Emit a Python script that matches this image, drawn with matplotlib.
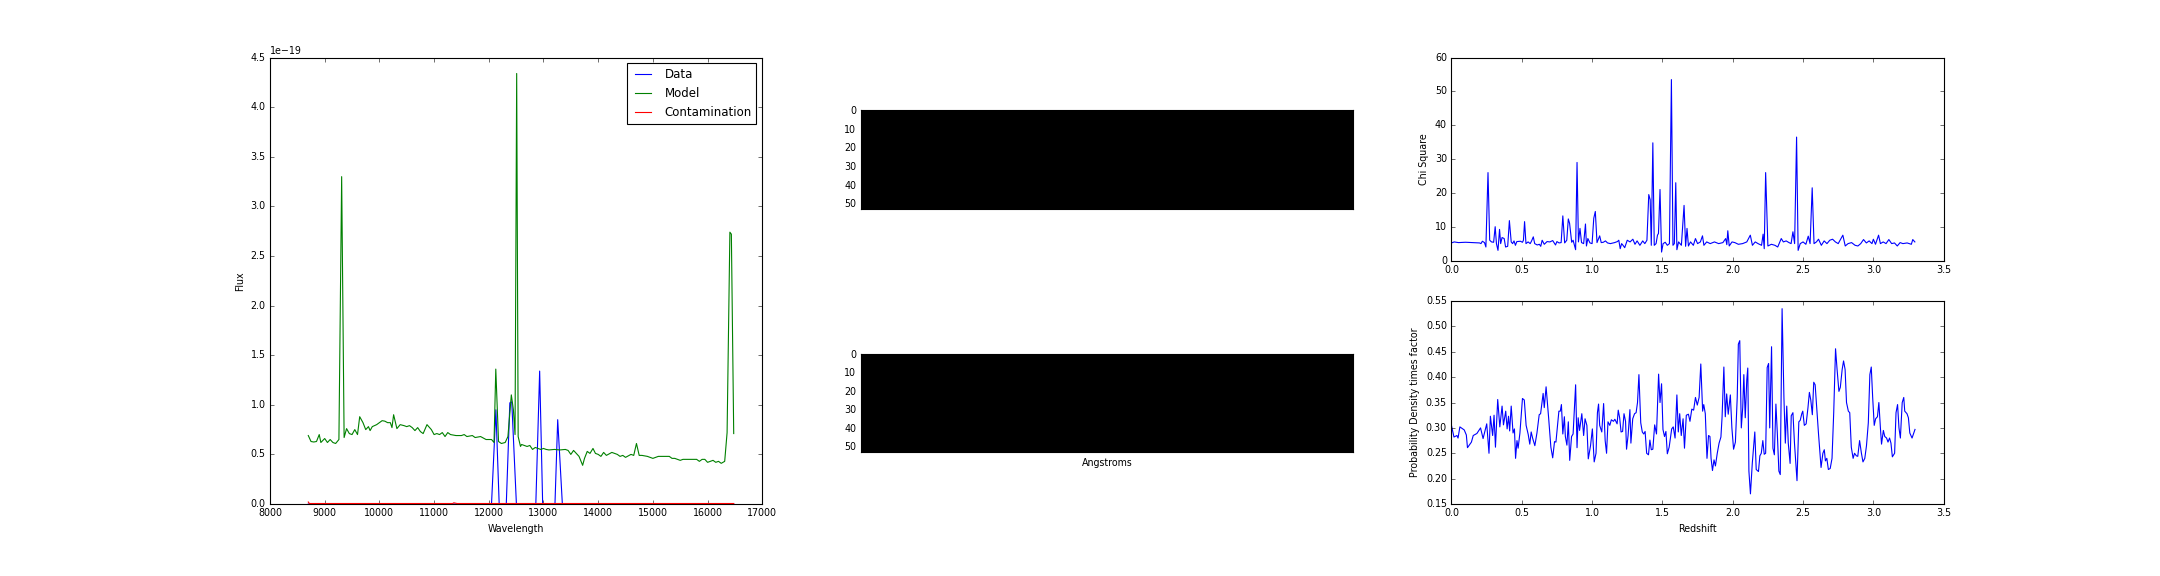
import numpy as np
import matplotlib
matplotlib.use("Agg")
import matplotlib.pyplot as plt

# --------------------------------------------------------------
# Data
# --------------------------------------------------------------

# Spectrum panel (flux in units of 1e-19)
model_wave = [8700, 8750, 8800, 8850, 8900, 8930, 9000, 9050, 9100, 9150, 9200, 9260,
              9310, 9355, 9400, 9450, 9500, 9550, 9600, 9640, 9700, 9750, 9800, 9830,
              9870, 9950, 10000, 10050, 10100, 10150, 10200, 10230, 10260, 10320, 10380,
              10450, 10500, 10550, 10600, 10650, 10700, 10750, 10800, 10870, 10950, 11000,
              11050, 11100, 11150, 11200, 11250, 11300, 11400, 11500, 11550, 11600, 11700,
              11750, 11850, 11950, 12050, 12096, 12128, 12178, 12230, 12300, 12350, 12412,
              12450, 12480, 12510, 12537, 12580, 12600, 12650, 12700, 12750, 12800, 12850,
              12900, 12950, 13000, 13050, 13100, 13200, 13300, 13400, 13450, 13500, 13550,
              13600, 13650, 13716, 13750, 13800, 13850, 13905, 13950, 14000, 14050, 14100,
              14150, 14250, 14350, 14400, 14450, 14500, 14600, 14650, 14700, 14750, 14800,
              14900, 15000, 15100, 15200, 15300, 15350, 15400, 15450, 15500, 15550, 15600,
              15700, 15800, 15850, 15900, 15950, 16000, 16050, 16100, 16150, 16200, 16250,
              16313, 16357, 16408, 16435, 16478]
model_flux = [0.69, 0.63, 0.625, 0.63, 0.70, 0.62, 0.66, 0.62, 0.65, 0.62, 0.61, 0.65,
              3.30, 0.67, 0.76, 0.71, 0.70, 0.75, 0.70, 0.88, 0.82, 0.75, 0.78, 0.74,
              0.78, 0.80, 0.82, 0.84, 0.835, 0.82, 0.82, 0.77, 0.90, 0.76, 0.80,
              0.79, 0.78, 0.79, 0.77, 0.74, 0.77, 0.73, 0.71, 0.80, 0.75, 0.70,
              0.71, 0.70, 0.72, 0.68, 0.72, 0.70, 0.69, 0.69, 0.70, 0.68, 0.69,
              0.67, 0.68, 0.65, 0.65, 0.62, 1.36, 0.63, 0.61, 0.62, 0.68, 1.10,
              0.95, 0.70, 4.34, 0.68, 0.58, 0.60, 0.59, 0.58, 0.59, 0.55, 0.57,
              0.56, 0.55, 0.56, 0.55, 0.545, 0.55, 0.545, 0.55, 0.54, 0.50, 0.54,
              0.51, 0.48, 0.39, 0.46, 0.53, 0.51, 0.56, 0.51, 0.50, 0.48, 0.52,
              0.49, 0.52, 0.50, 0.48, 0.49, 0.47, 0.50, 0.49, 0.61, 0.49, 0.49,
              0.48, 0.46, 0.48, 0.48, 0.48, 0.46, 0.46, 0.45, 0.44, 0.45, 0.45,
              0.45, 0.45, 0.43, 0.45, 0.45, 0.42, 0.43, 0.44, 0.42, 0.43, 0.41,
              0.43, 0.72, 2.74, 2.72, 0.71]

data_wave = [8700, 12050, 12130, 12190, 12320, 12385, 12420, 12505, 12860, 12930, 12985,
             13210, 13260, 13345, 16478]
data_flux = [0.0, 0.0, 0.95, 0.0, 0.0, 1.02, 1.03, 0.0, 0.0, 1.34, 0.0,
             0.0, 0.85, 0.0, 0.0]

contam_wave = [8700, 8720, 11340, 11360, 11420, 16478]
contam_flux = [0.02, 0.005, 0.005, 0.012, 0.005, 0.005]

# 2D cutouts (empty, all black)
cutout_rows = 53
cutout_cols = 262
cutout_top = np.zeros((cutout_rows, cutout_cols))
cutout_bottom = np.zeros((cutout_rows, cutout_cols))

# Chi square vs redshift
chi_z = [0.000, 0.020, 0.050, 0.100, 0.150, 0.200, 0.210, 0.220, 0.235, 0.245, 0.260, 0.272,
         0.285, 0.300, 0.311, 0.320, 0.331, 0.342, 0.350, 0.360, 0.375, 0.385, 0.400, 0.412,
         0.425, 0.435, 0.445, 0.455, 0.465, 0.490, 0.505, 0.512, 0.520, 0.530, 0.545, 0.560,
         0.570, 0.582, 0.592, 0.610, 0.625, 0.635, 0.645, 0.660, 0.680, 0.700, 0.720, 0.740,
         0.750, 0.765, 0.780, 0.792, 0.805, 0.820, 0.831, 0.840, 0.855, 0.865, 0.883, 0.893,
         0.903, 0.914, 0.925, 0.940, 0.953, 0.960, 0.970, 0.985, 1.000, 1.012, 1.023, 1.035,
         1.054, 1.065, 1.080, 1.095, 1.110, 1.130, 1.160, 1.180, 1.190, 1.200, 1.210, 1.220,
         1.232, 1.250, 1.270, 1.290, 1.305, 1.320, 1.340, 1.360, 1.375, 1.390, 1.403, 1.413,
         1.421, 1.432, 1.442, 1.455, 1.465, 1.472, 1.483, 1.494, 1.505, 1.520, 1.535, 1.550,
         1.564, 1.575, 1.585, 1.595, 1.603, 1.615, 1.635, 1.654, 1.665, 1.675, 1.685, 1.700,
         1.720, 1.735, 1.750, 1.770, 1.785, 1.795, 1.815, 1.840, 1.870, 1.900, 1.930, 1.950,
         1.958, 1.965, 1.975, 1.995, 2.015, 2.040, 2.070, 2.100, 2.125, 2.140, 2.160, 2.180,
         2.205, 2.216, 2.224, 2.234, 2.250, 2.275, 2.300, 2.320, 2.345, 2.360, 2.380, 2.400,
         2.415, 2.428, 2.440, 2.454, 2.465, 2.480, 2.500, 2.520, 2.537, 2.550, 2.565, 2.578,
         2.595, 2.610, 2.630, 2.650, 2.670, 2.690, 2.710, 2.730, 2.750, 2.770, 2.783, 2.800,
         2.820, 2.845, 2.870, 2.890, 2.910, 2.930, 2.950, 2.970, 2.990, 3.000, 3.015, 3.037,
         3.050, 3.070, 3.090, 3.110, 3.130, 3.150, 3.170, 3.190, 3.210, 3.240, 3.270, 3.280,
         3.295]
chi_sq = [5.2, 5.5, 5.3, 5.4, 5.3, 5.2, 5.0, 5.7, 5.3, 4.0, 26.0, 6.0,
          5.5, 5.4, 10.0, 5.0, 3.0, 9.2, 5.0, 6.8, 6.5, 4.0, 4.2, 11.8,
          5.5, 5.0, 5.8, 4.5, 5.6, 5.7, 5.4, 6.0, 11.5, 5.0, 5.5, 5.0,
          5.8, 7.0, 5.0, 4.6, 4.8, 4.2, 6.0, 4.8, 5.6, 5.5, 5.9, 4.6,
          5.6, 5.2, 5.3, 13.2, 5.2, 6.0, 12.3, 11.0, 5.4, 6.0, 3.2, 29.0,
          5.5, 9.5, 5.3, 5.0, 10.8, 4.3, 6.5, 5.2, 5.0, 12.5, 14.5, 5.3,
          7.3, 5.3, 5.4, 5.8, 5.2, 5.0, 5.3, 5.6, 6.0, 3.5, 5.0, 4.5,
          3.8, 6.0, 5.5, 6.3, 4.8, 5.8, 4.5, 5.8, 5.0, 6.0, 19.5, 18.0,
          4.5, 34.8, 4.5, 5.0, 7.5, 8.0, 21.0, 2.5, 5.0, 5.4, 4.5, 5.0,
          53.5, 4.5, 5.0, 23.0, 3.2, 5.5, 4.5, 16.3, 4.2, 9.5, 4.3, 5.5,
          4.5, 6.5, 5.0, 5.5, 7.3, 4.5, 5.5, 5.0, 5.5, 5.0, 5.3, 6.5,
          4.7, 8.8, 4.3, 5.5, 5.3, 4.8, 5.0, 5.5, 7.5, 4.5, 5.5, 5.0,
          4.5, 7.8, 3.5, 26.0, 4.3, 4.8, 4.5, 4.0, 6.5, 5.5, 5.8, 5.3,
          5.0, 8.5, 5.0, 36.5, 3.0, 5.0, 5.5, 4.8, 7.2, 5.0, 21.5, 5.0,
          5.5, 6.3, 4.5, 5.8, 5.0, 6.0, 6.3, 5.5, 5.0, 6.5, 7.5, 4.3,
          5.0, 5.3, 4.5, 4.3, 5.0, 6.2, 5.2, 5.8, 5.0, 6.3, 4.8, 7.5,
          5.0, 5.5, 5.0, 6.2, 5.0, 5.2, 4.3, 5.3, 5.0, 5.2, 4.8, 6.2,
          5.5]

# Probability density (times factor) vs redshift
pdf_z = [0.000, 0.018, 0.039, 0.047, 0.060, 0.091, 0.106, 0.114, 0.142, 0.155, 0.181, 0.207,
         0.225, 0.251, 0.267, 0.277, 0.293, 0.303, 0.313, 0.329, 0.344, 0.360, 0.370, 0.386,
         0.396, 0.406, 0.414, 0.425, 0.438, 0.448, 0.456, 0.466, 0.474, 0.487, 0.505, 0.518,
         0.531, 0.546, 0.557, 0.567, 0.577, 0.593, 0.608, 0.624, 0.634, 0.652, 0.660, 0.673,
         0.691, 0.707, 0.720, 0.733, 0.743, 0.764, 0.774, 0.782, 0.792, 0.803, 0.810, 0.821,
         0.831, 0.841, 0.854, 0.865, 0.883, 0.893, 0.901, 0.911, 0.927, 0.940, 0.950, 0.963,
         0.973, 0.989, 1.002, 1.015, 1.028, 1.038, 1.046, 1.054, 1.069, 1.082, 1.093, 1.103,
         1.113, 1.126, 1.137, 1.152, 1.162, 1.178, 1.186, 1.196, 1.206, 1.217, 1.227, 1.238,
         1.245, 1.256, 1.269, 1.276, 1.289, 1.302, 1.313, 1.323, 1.333, 1.346, 1.357, 1.367,
         1.377, 1.388, 1.401, 1.411, 1.421, 1.432, 1.445, 1.458, 1.473, 1.483, 1.494, 1.504,
         1.515, 1.525, 1.535, 1.548, 1.566, 1.577, 1.590, 1.603, 1.613, 1.623, 1.634, 1.647,
         1.657, 1.670, 1.685, 1.696, 1.709, 1.722, 1.735, 1.748, 1.761, 1.773, 1.786, 1.794,
         1.805, 1.817, 1.828, 1.838, 1.846, 1.856, 1.867, 1.877, 1.890, 1.903, 1.916, 1.924,
         1.937, 1.947, 1.957, 1.968, 1.983, 1.994, 2.006, 2.019, 2.032, 2.040, 2.050, 2.061,
         2.071, 2.079, 2.089, 2.100, 2.107, 2.115, 2.126, 2.139, 2.157, 2.167, 2.183, 2.193,
         2.203, 2.214, 2.224, 2.234, 2.245, 2.255, 2.263, 2.276, 2.286, 2.296, 2.307, 2.317,
         2.328, 2.338, 2.351, 2.364, 2.374, 2.384, 2.395, 2.408, 2.416, 2.428, 2.439, 2.447,
         2.457, 2.470, 2.480, 2.491, 2.498, 2.509, 2.522, 2.535, 2.545, 2.555, 2.566, 2.576,
         2.586, 2.597, 2.610, 2.628, 2.641, 2.651, 2.659, 2.669, 2.680, 2.693, 2.706, 2.718,
         2.731, 2.742, 2.755, 2.765, 2.778, 2.788, 2.799, 2.809, 2.822, 2.832, 2.843, 2.856,
         2.866, 2.879, 2.889, 2.902, 2.915, 2.926, 2.939, 2.951, 2.964, 2.975, 2.985, 2.995,
         3.006, 3.016, 3.029, 3.039, 3.050, 3.058, 3.071, 3.081, 3.094, 3.104, 3.115, 3.125,
         3.135, 3.151, 3.161, 3.172, 3.182, 3.192, 3.205, 3.216, 3.223, 3.239, 3.249, 3.259,
         3.275, 3.296]
pdf_val = [0.305, 0.282, 0.285, 0.280, 0.302, 0.296, 0.286, 0.261, 0.272, 0.285, 0.289, 0.300,
           0.279, 0.308, 0.250, 0.323, 0.285, 0.325, 0.262, 0.356, 0.302, 0.343, 0.306, 0.333,
           0.298, 0.323, 0.294, 0.343, 0.290, 0.298, 0.240, 0.275, 0.260, 0.290, 0.358, 0.355,
           0.305, 0.287, 0.268, 0.292, 0.280, 0.265, 0.290, 0.326, 0.328, 0.368, 0.340, 0.381,
           0.320, 0.262, 0.241, 0.273, 0.272, 0.333, 0.333, 0.346, 0.288, 0.322, 0.283, 0.266,
           0.312, 0.236, 0.283, 0.288, 0.385, 0.261, 0.320, 0.295, 0.328, 0.285, 0.318, 0.305,
           0.239, 0.265, 0.298, 0.233, 0.250, 0.330, 0.347, 0.305, 0.292, 0.348, 0.275, 0.250,
           0.312, 0.305, 0.316, 0.313, 0.317, 0.308, 0.335, 0.320, 0.292, 0.293, 0.328, 0.313,
           0.258, 0.285, 0.336, 0.270, 0.318, 0.328, 0.330, 0.350, 0.405, 0.310, 0.292, 0.288,
           0.293, 0.250, 0.247, 0.276, 0.257, 0.258, 0.306, 0.288, 0.406, 0.350, 0.387, 0.297,
           0.283, 0.293, 0.249, 0.262, 0.298, 0.302, 0.280, 0.365, 0.292, 0.328, 0.285, 0.318,
           0.260, 0.325, 0.327, 0.313, 0.337, 0.335, 0.360, 0.345, 0.360, 0.426, 0.333, 0.346,
           0.328, 0.240, 0.285, 0.283, 0.240, 0.216, 0.237, 0.225, 0.250, 0.270, 0.282, 0.320,
           0.420, 0.322, 0.367, 0.327, 0.365, 0.300, 0.258, 0.272, 0.360, 0.465, 0.472, 0.300,
           0.340, 0.405, 0.320, 0.395, 0.418, 0.215, 0.170, 0.230, 0.292, 0.218, 0.214, 0.245,
           0.250, 0.275, 0.248, 0.250, 0.419, 0.427, 0.300, 0.460, 0.260, 0.247, 0.347, 0.290,
           0.215, 0.208, 0.535, 0.360, 0.270, 0.343, 0.270, 0.230, 0.324, 0.330, 0.270, 0.236,
           0.196, 0.312, 0.315, 0.328, 0.333, 0.305, 0.308, 0.340, 0.370, 0.355, 0.326, 0.390,
           0.385, 0.340, 0.288, 0.222, 0.250, 0.257, 0.235, 0.240, 0.218, 0.220, 0.240, 0.330,
           0.456, 0.415, 0.372, 0.380, 0.415, 0.432, 0.415, 0.350, 0.333, 0.330, 0.262, 0.240,
           0.250, 0.245, 0.244, 0.275, 0.250, 0.233, 0.240, 0.265, 0.310, 0.405, 0.420, 0.360,
           0.305, 0.318, 0.322, 0.350, 0.300, 0.268, 0.295, 0.283, 0.280, 0.272, 0.280, 0.270,
           0.243, 0.250, 0.330, 0.346, 0.300, 0.280, 0.350, 0.360, 0.333, 0.328, 0.320, 0.290,
           0.280, 0.297]

# --------------------------------------------------------------
# Figure
# --------------------------------------------------------------
plt.style.use('classic')
plt.rcParams['font.size'] = 8.6
plt.rcParams['legend.fontsize'] = 10.6
plt.rcParams['figure.facecolor'] = 'white'
plt.rcParams['savefig.facecolor'] = 'white'

fig = plt.figure(figsize=(27, 7.2), dpi=80)

scale = 1e-19

# 3 columns: left=0.125, right=0.9, wspace=0.2
col_w = 0.2279
col_x = [0.125, 0.125 + 1.2 * col_w, 0.125 + 2.4 * col_w]

# Left: spectrum
ax1 = fig.add_axes([col_x[0], 0.125, col_w, 0.775])
ax1.plot(data_wave, np.array(data_flux) * scale, color='b', label='Data')
ax1.plot(model_wave, np.array(model_flux) * scale, color='g', label='Model')
ax1.plot(contam_wave, np.array(contam_flux) * scale, color='r', label='Contamination',
         zorder=3, clip_on=False)
ax1.set_xlim(8000, 17000)
ax1.set_ylim(0, 4.5e-19)
ax1.set_xticks(np.arange(8000, 17001, 1000))
ax1.set_yticks(np.arange(0, 4.51e-19, 0.5e-19))
ax1.set_xlabel('Wavelength')
ax1.set_ylabel('Flux')
ax1.legend(loc='upper right')

# Middle: 2D cutouts
ax2 = fig.add_axes([col_x[1], 0.6372, col_w, 0.1719])
ax2.imshow(cutout_top, cmap='gray', vmin=0, vmax=1, aspect='auto', interpolation='nearest')
ax2.set_xticks([])
ax2.set_yticks(np.arange(0, 51, 10))

ax3 = fig.add_axes([col_x[1], 0.2153, col_w, 0.1701])
ax3.imshow(cutout_bottom, cmap='gray', vmin=0, vmax=1, aspect='auto', interpolation='nearest')
ax3.set_xticks([])
ax3.set_yticks(np.arange(0, 51, 10))
ax3.set_xlabel('Angstroms')

# Right top: chi square
ax4 = fig.add_axes([col_x[2], 0.5477, col_w, 0.3523])
ax4.plot(chi_z, chi_sq, color='b')
ax4.set_xlim(0, 3.5)
ax4.set_ylim(0, 60)
ax4.set_ylabel('Chi Square')

# Right bottom: probability density
ax5 = fig.add_axes([col_x[2], 0.125, col_w, 0.3523])
ax5.plot(pdf_z, pdf_val, color='b')
ax5.set_xlim(0, 3.5)
ax5.set_ylim(0.15, 0.55)
ax5.set_yticks(np.arange(0.15, 0.551, 0.05))
ax5.set_xlabel('Redshift')
ax5.set_ylabel('Probability Density times factor')

fig.savefig('out.png', dpi=80)
